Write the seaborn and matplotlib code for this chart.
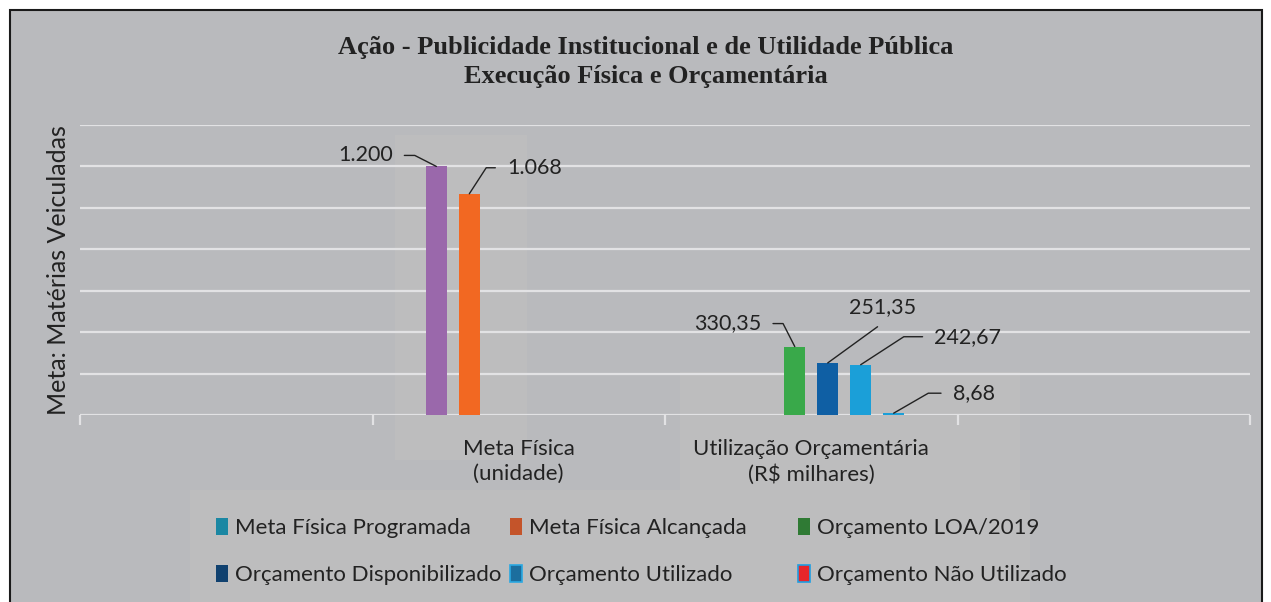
import numpy as np
import pandas as pd
import seaborn as sns
import matplotlib.pyplot as plt
from matplotlib.patches import Patch, Rectangle

sns.set_style("white")
plt.rcParams['font.family'] = ['Lato', 'DejaVu Sans']

# dados
categorias = ["", "Meta Física\n(unidade)", "Utilização Orçamentária\n(R$ milhares)", " "]
series = ["Meta Física Programada", "Meta Física Alcançada", "Orçamento LOA/2019",
          "Orçamento Disponibilizado", "Orçamento Utilizado", "Orçamento Não Utilizado"]
serie_categoria = [categorias[1], categorias[1], categorias[2], categorias[2], categorias[2], categorias[2]]
valores = [1200, 1068, 330.35, 251.35, 242.67, 8.68]
rotulos = ["1.200", "1.068", "330,35", "251,35", "242,67", "8,68"]

cores_barras = ["#9a68ab", "#f26822", "#39a94a", "#0f5fa4", "#1b9fd8", "#1b9fd8"]
cores_legenda = ["#1b87a3", "#c4542a", "#2f7a34", "#10416f", "#1c6e9e", "#e8262b"]
bordas_legenda = ["none", "none", "none", "none", "#2aa8e2", "#1f9ee2"]

df = pd.DataFrame({"categoria": serie_categoria, "serie": series, "valor": valores})

W, H = 1271, 602
fig = plt.figure(figsize=(W / 100, H / 100), dpi=100, facecolor="white")
fundo = "#b9babd"
fig.patches.append(Rectangle((10 / W, -0.02), 1252 / W, 1.02 - 10 / H,
                             transform=fig.transFigure, facecolor=fundo,
                             edgecolor="#1a1a1a", linewidth=1.5, zorder=-10))
# áreas levemente mais claras do original
for x0, y0, x1, y1 in [(395, 135, 527, 460), (680, 372, 1020, 490), (190, 490, 1030, 602)]:
    fig.patches.append(Rectangle((x0 / W, 1 - y1 / H), (x1 - x0) / W, (y1 - y0) / H,
                                 transform=fig.transFigure, facecolor="#bdbdbe",
                                 edgecolor="none", zorder=-9))

ax = fig.add_axes([80 / W, (H - 415) / H, 1170 / W, 290 / H])
ax.set_facecolor("none")

sns.barplot(data=df, x="categoria", y="valor", hue="serie", order=categorias,
            hue_order=series, palette=cores_barras, width=0.676, gap=0.36,
            saturation=1, linewidth=0, legend=False, ax=ax, zorder=3)

ax.set_ylim(0, 1400)
ax.set_xlim(-0.5, 3.5)
ax.set_yticks(np.arange(0, 1401, 200))
ax.set_yticklabels([])
ax.tick_params(axis="y", length=0)
ax.grid(axis="y", color="#e2e2e4", linewidth=1.6, zorder=0)
for s in ["top", "right", "left", "bottom"]:
    ax.spines[s].set_visible(False)

ax.set_xticks(range(len(categorias)))
ax.set_xticklabels(categorias, fontsize=16, color="#222222", linespacing=1.35)
ax.tick_params(axis="x", length=0, pad=17)
ax.set_xticks(np.arange(-0.5, 4, 1), minor=True)
ax.tick_params(axis="x", which="minor", bottom=True, length=7, color="#e2e2e4", width=1.6)
ax.set_xlabel("")
ax.set_ylabel("Meta: Matérias Veiculadas", fontsize=18, color="#222222", labelpad=4)

# rótulos com linhas de chamada
offsets = [(-71, 11), (65, 26), (-67, 23), (55, 56), (107, 28), (80, 20)]
angulos = [(0, 153), (0, 57), (0, 117), (90, 36), (0, 33), (0, 30)]
barras = [b for cont in ax.containers for b in cont if b.get_height() > 0]
barras.sort(key=lambda b: b.get_x())
for bar, val, txt, off, ang in zip(barras, valores, rotulos, offsets, angulos):
    xc = bar.get_x() + bar.get_width() / 2
    ax.annotate(txt, xy=(xc, val), xytext=off, textcoords="offset pixels",
                ha="center", va="center", fontsize=15.5, color="#222222",
                arrowprops=dict(arrowstyle="-", color="#222222", linewidth=1.0,
                                connectionstyle=f"angle,angleA={ang[0]},angleB={ang[1]},rad=0",
                                shrinkA=6, shrinkB=0))

fig.text(0.508, 1 - 62 / H, "Ação - Publicidade Institucional e de Utilidade Pública\nExecução Física e Orçamentária",
         ha="center", va="center", fontsize=19, fontweight="bold",
         family="Liberation Serif", color="#222222", linespacing=1.32)

# legenda em três colunas
xs_col = [216, 510, 798]
for c in range(3):
    idx = [c, c + 3]
    handles = [Patch(facecolor=cores_legenda[i], edgecolor=bordas_legenda[i], linewidth=1.2) for i in idx]
    fig.legend(handles, [series[i] for i in idx], loc="upper left",
               bbox_to_anchor=(xs_col[c] / W, 1 - 518 / H), frameon=False,
               fontsize=16, labelcolor="#222222", handlelength=0.55, handleheight=0.8,
               handletextpad=0.3, labelspacing=1.2, borderaxespad=0, borderpad=0)

fig.savefig("out.png", dpi=100, facecolor="white")
